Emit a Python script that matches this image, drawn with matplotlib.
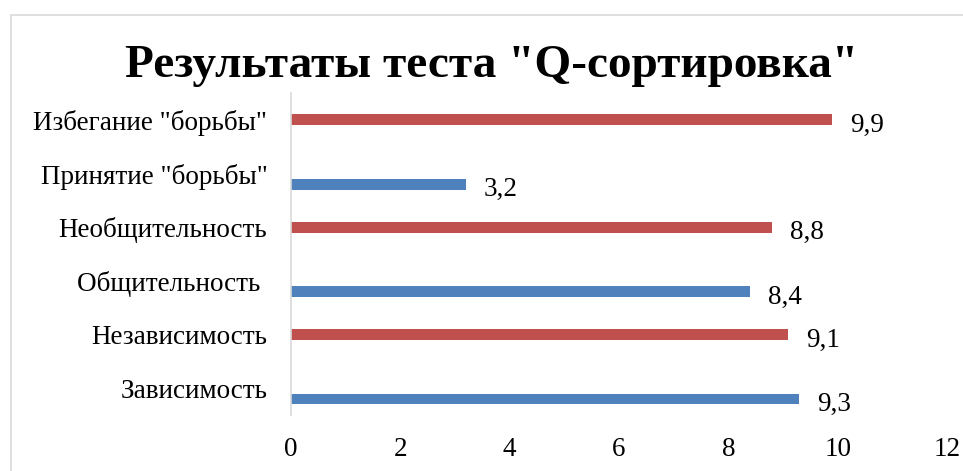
import matplotlib
matplotlib.use("Agg")
import matplotlib.pyplot as plt
import matplotlib.transforms as mtrans
from matplotlib.patches import Rectangle
import numpy as np

categories = ["Зависимость", "Независимость", "Общительность ", "Необщительность",
              "Принятие \"борьбы\"", "Избегание \"борьбы\""]
blue_values = [9.3, None, 8.4, None, 3.2, None]
red_values = [None, 9.1, None, 8.8, None, 9.9]
xticks = [0, 2, 4, 6, 8, 10, 12]
title = "Результаты теста \"Q-сортировка\""

BLUE = "#4F81BD"
RED = "#C0504D"
GRID = "#D9D9D9"
FONT = "Liberation Serif"
FS = 19.5

W, H = 963, 471
fig = plt.figure(figsize=(W / 100, H / 100), dpi=100)
fig.patches.append(Rectangle((11 / W, -0.1), 1.2, 1.1 - 15 / H, transform=fig.transFigure,
                             fill=False, edgecolor=GRID, lw=1.2))

ax = fig.add_axes([291 / W, 1 - 415 / H, 656 / W, 322 / H])
h = 0.2
ypos = np.arange(len(categories))


def fmt(v):
    return ("%.1f" % v).replace(".", ",")


label_tr = ax.transData + mtrans.ScaledTranslation(18 / 100, -12 / 100, fig.dpi_scale_trans)
for vals, off, col in [(blue_values, -h, BLUE), (red_values, 0.0, RED)]:
    for i, v in enumerate(vals):
        if v is None:
            continue
        ax.barh(ypos[i] + off, v, height=h, color=col)
        ax.text(v, ypos[i] + off, fmt(v), transform=label_tr, ha="left", va="baseline",
                fontsize=FS, family=FONT, color="black")

ax.set_xlim(0, 12)
ax.set_ylim(-0.5, len(categories) - 0.5)
ax.set_xticks(xticks)
ax.set_xticklabels([str(x) for x in xticks], fontsize=FS, family=FONT)
ax.set_yticks(ypos)
ax.set_yticklabels(categories, fontsize=FS, family=FONT)
ax.tick_params(axis="x", length=0, pad=16)
ax.tick_params(axis="y", length=0, pad=17)
for s in ["top", "right", "bottom"]:
    ax.spines[s].set_visible(False)
ax.spines["left"].set_color(GRID)
ax.spines["left"].set_linewidth(1.2)

fig.text(492 / W, 1 - 76.7 / H, title, ha="center", va="baseline", fontsize=34,
         fontweight="bold", family=FONT)

fig.savefig("out.png", dpi=100)
